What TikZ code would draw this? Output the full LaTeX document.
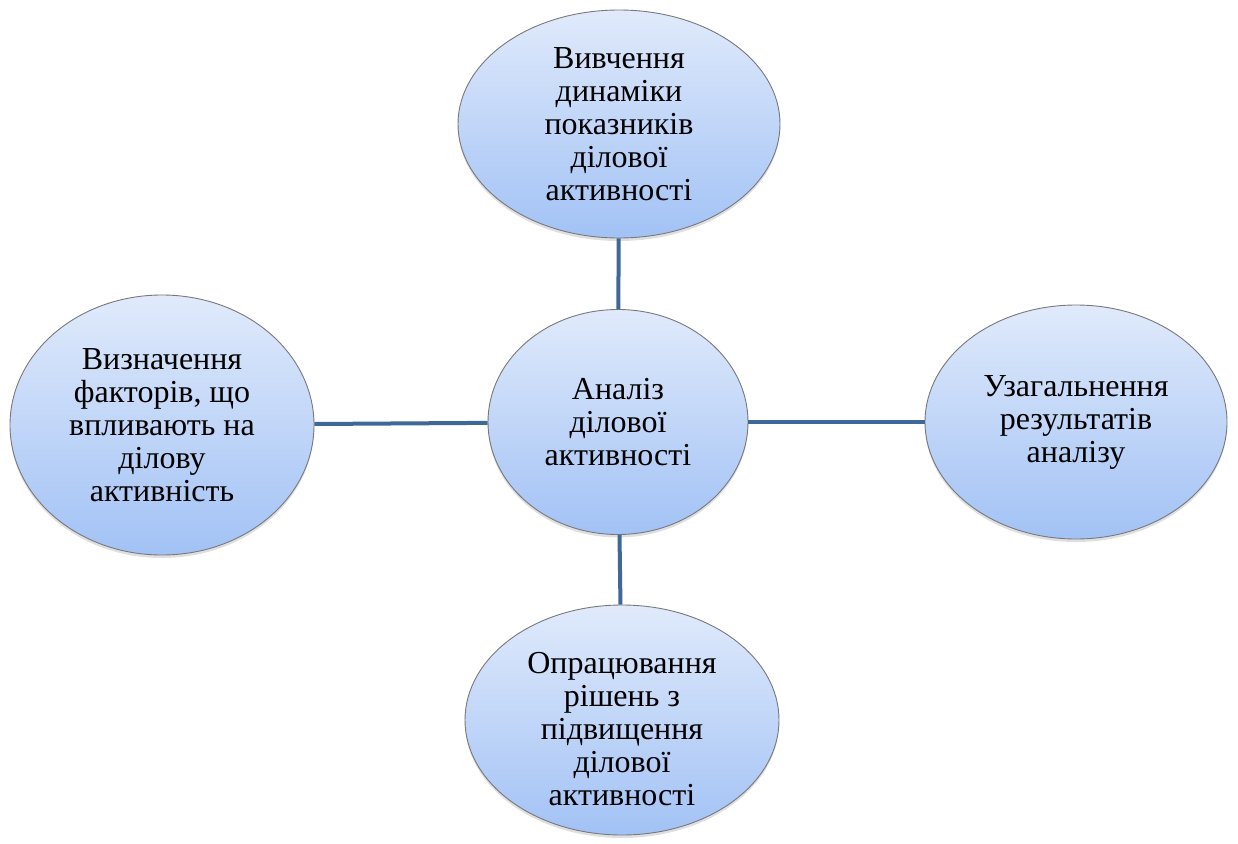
\documentclass[tikz,border=0pt]{standalone}
\usepackage{fontspec}
\newfontfamily\uafont{Liberation Serif}
\usetikzlibrary{shapes.geometric,shadows}
\definecolor{topblue}{RGB}{224,234,251}
\definecolor{botblue}{RGB}{162,194,245}
\definecolor{edgeline}{RGB}{120,120,125}
\definecolor{linkblue}{RGB}{62,104,152}
\tikzset{
  bub/.style={ellipse, inner sep=-6pt, top color=topblue, bottom color=botblue,
    draw=edgeline, line width=0.9pt, align=center,
    font=\uafont\fontsize{32}{33}\selectfont,
    drop shadow={opacity=0.25, shadow xshift=0pt, shadow yshift=-3pt}},
  link/.style={draw=linkblue, line width=4pt}
}
\begin{document}
\begin{tikzpicture}[x=1pt,y=1pt]
\useasboundingbox (0,0) rectangle (1238,-843);
\node[bub, minimum width=322, minimum height=228] (top) at (619,-124)
  {Вивчення\\динаміки\\показників\\ділової\\активності};
\node[bub, minimum width=260, minimum height=225] (c) at (618,-422)
  {Аналіз\\ділової\\активності};
\node[bub, minimum width=304, minimum height=260] (l) at (162,-425)
  {Визначення\\факторів, що\\впливають на\\ділову\\активність};
\node[bub, minimum width=302, minimum height=234] (r) at (1076,-422)
  {Узагальнення\\результатів\\аналізу};
\node[bub, minimum width=314, minimum height=230] (b) at (622,-720)
  {\rule{0pt}{40pt}Опрацювання\\рішень з\\підвищення\\ділової\\активності};
\draw[link] (top) -- (c);
\draw[link] (l) -- (c);
\draw[link] (c) -- (r);
\draw[link] (c) -- (b);
\end{tikzpicture}
\end{document}
